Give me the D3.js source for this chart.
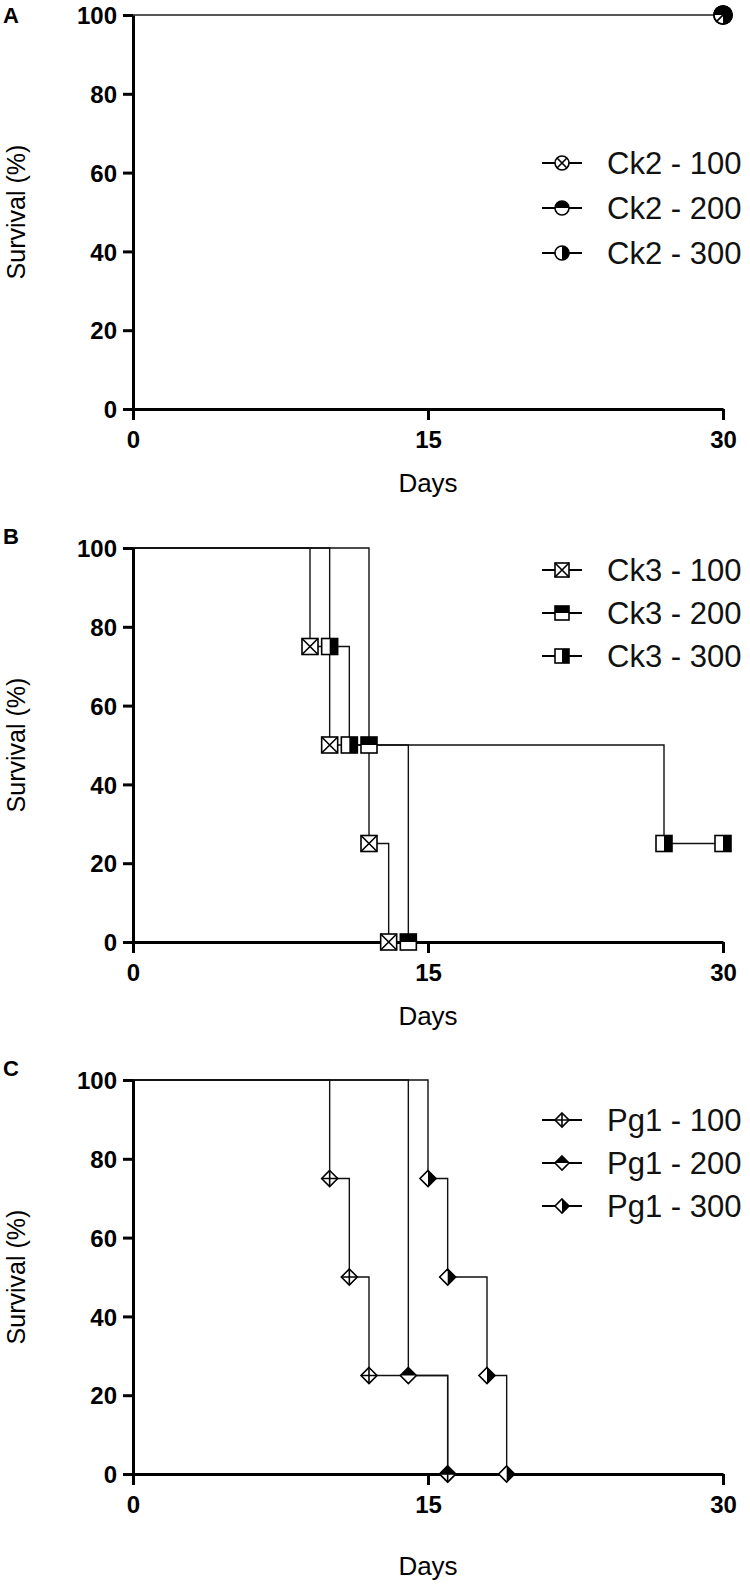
<!DOCTYPE html>
<html>
<head>
<meta charset="utf-8">
<script src="https://cdn.jsdelivr.net/npm/d3@7"></script>
<style>
  html, body { margin: 0; padding: 0; background: #fff; }
  svg { display: block; }
</style>
</head>
<body>
<svg id="chart" width="750" height="1586"></svg>
<script>
// ---------- DATA ----------
const panelLetters = ["A", "B", "C"];
const xTicks = [0, 15, 30];
const yTicks = [0, 20, 40, 60, 80, 100];

// Panel A (Ck2) – [day, survival %]
const ck2_100 = [[0, 100], [30, 100]];
const ck2_200 = [[0, 100], [30, 100]];
const ck2_300 = [[0, 100], [30, 100]];
// Panel B (Ck3)
const ck3_100 = [[0, 100], [9, 75], [10, 50], [12, 25], [13, 0]];
const ck3_200 = [[0, 100], [12, 50], [14, 0]];
const ck3_300 = [[0, 100], [10, 75], [11, 50], [27, 25], [30, 25]];
// Panel C (Pg1)
const pg1_100 = [[0, 100], [10, 75], [11, 50], [12, 25], [16, 0]];
const pg1_200 = [[0, 100], [14, 25], [16, 0]];
const pg1_300 = [[0, 100], [15, 75], [16, 50], [18, 25], [19, 0]];

const namesA = ["Ck2 - 100", "Ck2 - 200", "Ck2 - 300"];
const namesB = ["Ck3 - 100", "Ck3 - 200", "Ck3 - 300"];
const namesC = ["Pg1 - 100", "Pg1 - 200", "Pg1 - 300"];

const panels = [
  { letter: panelLetters[0], names: namesA, series: [ck2_100, ck2_200, ck2_300],
    shapes: ["circleX", "circleTop", "circleRight"] },
  { letter: panelLetters[1], names: namesB, series: [ck3_100, ck3_200, ck3_300],
    shapes: ["squareX", "squareTop", "squareRight"] },
  { letter: panelLetters[2], names: namesC, series: [pg1_100, pg1_200, pg1_300],
    shapes: ["diamondPlus", "diamondTop", "diamondRight"] }
];

// ---------- LAYOUT ----------
const X0 = 133, X1 = 723;
const panelTop = [15, 548, 1080];
const panelH = 394;
const daysOffset = [74, 74, 92];
const legendTop = [163, 570, 1120];
const legendGap = [45, 43, 43];
const FONT = "Liberation Sans, Arial, sans-serif";

const svg = d3.select("#chart");
const x = d3.scaleLinear().domain([0, 30]).range([X0, X1]);
const SW = 1.6;

function drawBase(g, shape, size) {
  if (shape.startsWith("circle")) {
    g.append("circle").attr("r", size / 2).attr("fill", "#fff").attr("stroke", "#000").attr("stroke-width", SW);
  } else if (shape.startsWith("square")) {
    const h = size / 2;
    g.append("rect").attr("x", -h).attr("y", -h).attr("width", size).attr("height", size)
      .attr("fill", "#fff").attr("stroke", "#000").attr("stroke-width", SW);
  } else {
    const d = size / 2;
    g.append("path").attr("d", `M0,${-d}L${d},0L0,${d}L${-d},0Z`)
      .attr("fill", "#fff").attr("stroke", "#000").attr("stroke-width", SW);
  }
}

function drawDecor(g, shape, size) {
  const r = size / 2;
  if (shape === "circleTop")
    g.append("path").attr("d", `M${-r},0 A${r},${r} 0 0 1 ${r},0 Z`).attr("fill", "#000");
  if (shape === "circleRight")
    g.append("path").attr("d", `M0,${-r} A${r},${r} 0 0 1 0,${r} Z`).attr("fill", "#000");
  if (shape === "circleX") {
    const k = r * 0.707;
    g.append("path").attr("d", `M${-k},${-k}L${k},${k}M${k},${-k}L${-k},${k}`)
      .attr("stroke", "#000").attr("stroke-width", SW);
  }
  if (shape === "squareTop")
    g.append("rect").attr("x", -r).attr("y", -r).attr("width", size).attr("height", r).attr("fill", "#000");
  if (shape === "squareRight")
    g.append("rect").attr("x", 0).attr("y", -r).attr("width", r).attr("height", size).attr("fill", "#000");
  if (shape === "squareX")
    g.append("path").attr("d", `M${-r},${-r}L${r},${r}M${r},${-r}L${-r},${r}`)
      .attr("stroke", "#000").attr("stroke-width", SW);
  if (shape === "diamondTop")
    g.append("path").attr("d", `M${-r},0L0,${-r}L${r},0Z`).attr("fill", "#000");
  if (shape === "diamondRight")
    g.append("path").attr("d", `M0,${-r}L${r},0L0,${r}Z`).attr("fill", "#000");
  if (shape === "diamondPlus")
    g.append("path").attr("d", `M${-r},0L${r},0M0,${-r}L0,${r}`)
      .attr("stroke", "#000").attr("stroke-width", SW);
}

panels.forEach((p, i) => {
  const top = panelTop[i];
  const y = d3.scaleLinear().domain([0, 100]).range([top + panelH, top]);
  const g = svg.append("g");

  // panel letter
  g.append("text").attr("x", 3).attr("y", top + (i === 0 ? 8 : -4))
    .attr("font-family", FONT).attr("font-weight", "bold")
    .attr("font-size", 22).text(p.letter);

  // step lines
  const line = d3.line().x(d => x(d[0])).y(d => y(d[1])).curve(d3.curveStepAfter);
  p.series.forEach(s => {
    g.append("path").datum(s).attr("d", line)
      .attr("fill", "none").attr("stroke", i === 0 ? "#555" : "#111").attr("stroke-width", 1.4);
  });

  // axes
  const yAxis = d3.axisLeft(y).tickValues(yTicks).tickSize(10).tickSizeOuter(0).tickPadding(6);
  const xAxis = d3.axisBottom(x).tickValues(xTicks).tickSize(11).tickSizeOuter(0).tickPadding(10);
  const ga = g.append("g").attr("transform", `translate(${X0},0)`).call(yAxis);
  const gb = g.append("g").attr("transform", `translate(0,${top + panelH})`).call(xAxis);
  [ga, gb].forEach(a => {
    a.select(".domain").attr("stroke", "#000").attr("stroke-width", 3);
    a.selectAll(".tick line").attr("stroke", "#000").attr("stroke-width", 3);
    a.selectAll(".tick text").attr("fill", "#000")
      .attr("font-family", FONT).attr("font-weight", "bold").attr("font-size", 24);
  });
  ga.selectAll(".tick text").attr("dy", "0.36em");
  gb.selectAll(".tick text").attr("dy", "0.75em");

  // axis titles
  g.append("text").attr("x", x(15)).attr("y", top + panelH + daysOffset[i] + 9)
    .attr("text-anchor", "middle").attr("font-family", FONT)
    .attr("font-size", 26).text("Days");
  g.append("text").attr("transform", `translate(25,${top + panelH / 2}) rotate(-90)`)
    .attr("text-anchor", "middle").attr("font-family", FONT)
    .attr("font-size", 25).text("Survival (%)");

  // markers: bases first, then decorations (so overlapping fills combine)
  const size = i === 0 ? 18 : 16;
  const pts = [];
  p.series.forEach((s, k) => s.slice(1).forEach(d => pts.push({ d, shape: p.shapes[k] })));
  pts.forEach(o => drawBase(g.append("g").attr("transform", `translate(${x(o.d[0])},${y(o.d[1])})`), o.shape, size));
  pts.forEach(o => drawDecor(g.append("g").attr("transform", `translate(${x(o.d[0])},${y(o.d[1])})`), o.shape, size));

  // legend
  p.names.forEach((name, k) => {
    const ly = legendTop[i] + k * legendGap[i];
    g.append("line").attr("x1", 542).attr("x2", 582).attr("y1", ly).attr("y2", ly)
      .attr("stroke", "#000").attr("stroke-width", 1.8);
    const mg = g.append("g").attr("transform", `translate(562,${ly})`);
    drawBase(mg, p.shapes[k], 14);
    drawDecor(mg, p.shapes[k], 14);
    g.append("text").attr("x", 607).attr("y", ly).attr("dy", "0.36em")
      .attr("font-family", FONT).attr("font-size", 31).attr("fill", "#111").text(name);
  });
});
</script>
</body>
</html>
